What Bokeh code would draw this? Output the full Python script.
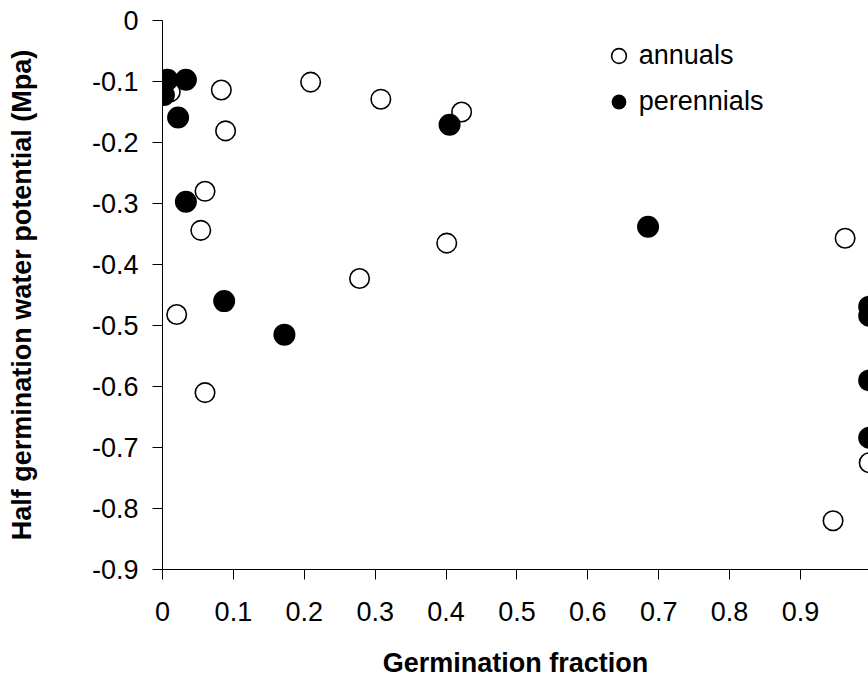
from bokeh.plotting import figure
from bokeh.models import Range1d, FixedTicker, Legend, LegendItem, Label
from bokeh.embed import file_html
from bokeh.resources import INLINE

# ---- data ----
annual_frac = [0.011, 0.083, 0.209, 0.089, 0.060, 0.054, 0.020, 0.060,
               0.308, 0.422, 0.401, 0.278, 0.963, 0.997, 0.946]
annual_psi = [-0.117, -0.114, -0.101, -0.181, -0.280, -0.344, -0.482, -0.610,
              -0.129, -0.150, -0.365, -0.423, -0.357, -0.725, -0.820]

perennial_frac = [0.007, 0.033, 0.002, 0.022, 0.033, 0.087, 0.172,
                  0.405, 0.685, 0.997, 0.997, 0.997, 0.997]
perennial_psi = [-0.097, -0.097, -0.122, -0.159, -0.297, -0.460, -0.515,
                 -0.171, -0.338, -0.469, -0.484, -0.590, -0.684]

x_ticks = [0, 0.1, 0.2, 0.3, 0.4, 0.5, 0.6, 0.7, 0.8, 0.9, 1]
x_tick_labels = ["0", "0.1", "0.2", "0.3", "0.4", "0.5", "0.6", "0.7", "0.8", "0.9", "1"]
y_ticks = [0, -0.1, -0.2, -0.3, -0.4, -0.5, -0.6, -0.7, -0.8, -0.9]
y_tick_labels = ["0", "-0.1", "-0.2", "-0.3", "-0.4", "-0.5", "-0.6", "-0.7", "-0.8", "-0.9"]

FONT = "Liberation Sans"
FS = "27px"
TICK_OUT = 10
X_STANDOFF = 22

p = figure(width=868, height=680, output_backend="svg", toolbar_location=None,
           x_range=Range1d(0, 0.996), y_range=Range1d(-0.9, 0),
           min_border_left=162, min_border_right=0, min_border_top=20,
           min_border_bottom=108)
p.outline_line_color = None
p.grid.visible = False
p.background_fill_color = "white"
p.border_fill_color = "white"

r_a = p.scatter(annual_frac, annual_psi, marker="circle", size=19.5,
                fill_color="white", line_color="black", line_width=1.6)
r_p = p.scatter(perennial_frac, perennial_psi, marker="circle", size=22,
                fill_color="black", line_color=None)

for ax in (p.xaxis[0], p.yaxis[0]):
    ax.axis_line_color = "black"
    ax.axis_line_width = 1
    ax.major_tick_line_color = "black"
    ax.major_tick_out = TICK_OUT
    ax.major_tick_in = 0
    ax.minor_tick_line_color = None
    ax.major_label_text_font = FONT
    ax.major_label_text_font_size = FS
    ax.major_label_text_color = "black"
    ax.axis_label_text_font = FONT
    ax.axis_label_text_font_size = FS
    ax.axis_label_text_font_style = "bold"
    ax.axis_label_text_color = "black"

p.xaxis.ticker = FixedTicker(ticks=x_ticks)
p.xaxis.major_label_overrides = dict(zip(x_ticks, x_tick_labels))
p.xaxis.axis_label = "Germination fraction"
p.xaxis.major_label_standoff = X_STANDOFF
p.xaxis.axis_label_standoff = 24

p.yaxis.ticker = FixedTicker(ticks=y_ticks)
p.yaxis.major_label_overrides = dict(zip(y_ticks, y_tick_labels))
p.yaxis.axis_label = "Half germination water potential (Mpa)"
p.yaxis.major_label_standoff = 14
p.yaxis.axis_label_standoff = 52

# partially visible last tick label, as in the reference
last = Label(x=x_ticks[-1], y=y_ticks[-1], text=x_tick_labels[-1],
             text_align="center", text_baseline="top",
             y_offset=-(TICK_OUT + X_STANDOFF),
             text_font=FONT, text_font_size=FS, text_color="black")
p.add_layout(last)

legend = Legend(items=[LegendItem(label="annuals", renderers=[r_a]),
                       LegendItem(label="perennials", renderers=[r_p])],
                location=(437.8, 449.5), glyph_width=37, glyph_height=37,
                label_standoff=2, spacing=9, padding=0, margin=0,
                border_line_color=None, background_fill_alpha=0,
                label_text_font=FONT, label_text_font_size=FS,
                label_text_color="black")
p.add_layout(legend)

open("out.html", "w").write(file_html(p, INLINE))
